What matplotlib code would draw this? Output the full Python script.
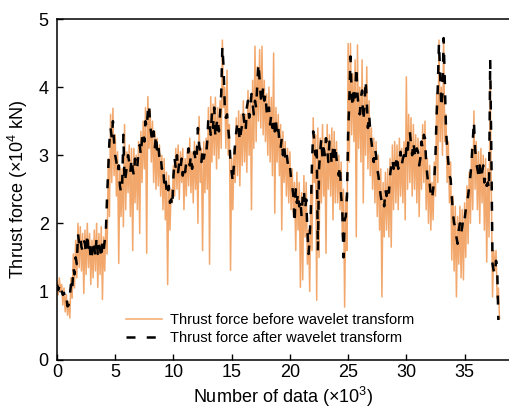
import numpy as np
import matplotlib
matplotlib.use("Agg")
import matplotlib.pyplot as plt

plt.rcParams['font.family'] = ['Liberation Sans', 'DejaVu Sans']
plt.rcParams['mathtext.fontset'] = 'custom'
plt.rcParams['mathtext.rm'] = 'Liberation Sans'

before = [
    1.15, 0.95, 1.20, 1.00, 1.10, 0.80, 1.05, 0.70, 0.95, 0.65,
    0.85, 0.61, 1.20, 0.90, 1.55, 1.05, 1.75, 1.20, 2.00, 1.35,
    1.95, 1.30, 1.85, 0.97, 1.90, 1.25, 2.00, 1.35, 1.85, 1.10,
    1.75, 1.20, 1.90, 1.30, 2.00, 1.06, 1.85, 1.25, 1.95, 0.88,
    1.80, 1.30, 2.05, 1.55, 2.95, 2.10, 3.60, 2.60, 3.69, 2.70,
    3.30, 2.40, 3.05, 1.41, 2.85, 2.10, 2.80, 1.95, 3.45, 2.20,
    3.05, 2.45, 3.15, 2.10, 3.10, 1.60, 3.10, 2.30, 3.00, 2.20,
    3.20, 1.85, 3.35, 2.60, 3.50, 2.80, 3.70, 1.56, 3.86, 3.10,
    3.65, 2.90, 3.50, 2.60, 3.35, 2.50, 3.25, 2.55, 3.15, 2.40,
    3.00, 2.20, 2.95, 2.05, 2.75, 1.10, 2.70, 1.90, 2.50, 2.30,
    2.85, 2.40, 3.10, 2.50, 3.15, 2.35, 3.05, 2.60, 3.10, 2.20,
    2.95, 2.40, 3.10, 2.55, 3.25, 2.45, 3.05, 2.30, 3.20, 2.50,
    3.15, 2.00, 3.57, 2.60, 3.10, 1.60, 3.20, 2.45, 3.25, 2.50,
    3.70, 1.40, 3.86, 2.90, 3.75, 3.00, 3.85, 2.80, 3.70, 2.95,
    3.80, 3.10, 4.69, 3.70, 4.00, 3.10, 4.25, 3.00, 3.45, 1.31,
    2.95, 2.20, 3.10, 2.60, 3.55, 2.70, 3.65, 2.55, 3.60, 2.85,
    3.80, 2.90, 3.60, 2.75, 3.95, 3.00, 3.85, 2.20, 4.10, 3.10,
    4.60, 3.20, 4.30, 3.50, 4.55, 3.40, 4.60, 3.30, 4.10, 3.20,
    3.90, 3.00, 4.00, 2.90, 3.85, 2.70, 4.50, 2.15, 3.70, 2.90,
    3.60, 2.70, 3.45, 1.90, 3.35, 2.60, 3.20, 2.40, 3.10, 2.30,
    3.05, 2.20, 2.80, 2.10, 2.60, 1.60, 2.75, 1.90, 2.60, 1.06,
    2.45, 1.17, 2.70, 1.80, 2.60, 1.40, 1.90, 1.00, 2.50, 1.60,
    3.55, 2.60, 3.30, 0.87, 3.40, 1.50, 3.25, 2.30, 3.45, 2.40,
    3.25, 1.56, 3.45, 2.50, 3.30, 2.40, 3.40, 2.05, 3.35, 2.30,
    3.20, 2.30, 3.00, 2.20, 2.90, 1.80, 2.50, 0.77, 2.40, 1.60,
    4.64, 2.90, 4.64, 3.30, 4.20, 3.20, 4.40, 1.80, 4.62, 3.10,
    4.00, 2.90, 4.40, 2.30, 4.00, 3.00, 4.30, 2.80, 3.80, 2.70,
    3.40, 2.50, 3.25, 2.30, 3.20, 2.10, 3.00, 1.90, 2.80, 0.92,
    2.60, 1.80, 2.75, 1.90, 2.80, 1.80, 2.95, 1.65, 3.15, 2.20,
    3.20, 2.30, 3.15, 2.20, 3.25, 2.40, 3.10, 2.30, 3.20, 2.05,
    4.15, 2.50, 3.60, 2.60, 3.55, 2.40, 3.45, 2.50, 3.30, 2.30,
    3.25, 2.10, 3.20, 2.50, 3.45, 2.60, 3.50, 2.20, 2.95, 2.00,
    2.85, 1.90, 2.60, 2.05, 2.90, 2.40, 3.90, 2.60, 4.69, 3.20,
    4.00, 3.00, 4.72, 3.20, 3.60, 2.60, 3.20, 2.30, 2.90, 1.46,
    2.40, 1.30, 2.25, 0.92, 2.10, 1.40, 2.25, 1.20, 2.20, 1.17,
    2.30, 1.50, 2.55, 1.70, 2.75, 2.00, 3.10, 2.20, 3.65, 2.50,
    3.20, 2.20, 3.05, 2.00, 3.10, 2.30, 3.00, 1.90, 2.95, 1.43,
    2.80, 1.80, 4.20, 2.40, 0.92, 1.60, 1.30, 1.60, 0.90, 1.05,
    0.60,
]

after = [
    1.10, 1.02, 1.08, 1.12, 1.00, 0.95, 0.98, 0.88, 0.92, 0.78,
    0.80, 0.95, 1.10, 1.00, 1.35, 1.25, 1.50, 1.40, 1.85, 1.70,
    1.80, 1.65, 1.60, 1.75, 1.70, 1.55, 1.85, 1.60, 1.70, 1.45,
    1.55, 1.75, 1.65, 1.50, 1.80, 1.55, 1.70, 1.62, 1.48, 1.72,
    1.60, 1.75, 1.90, 2.40, 2.80, 3.20, 3.40, 3.25, 3.50, 3.20,
    3.00, 2.90, 2.75, 2.85, 2.55, 2.45, 2.60, 3.30, 2.60, 2.70,
    2.85, 3.00, 2.90, 2.75, 2.95, 2.80, 2.70, 2.95, 2.80, 2.85,
    3.05, 3.15, 3.00, 3.25, 3.35, 3.20, 3.50, 3.40, 3.65, 3.75,
    3.45, 3.30, 3.20, 3.35, 3.10, 3.30, 3.05, 3.15, 2.95, 3.00,
    2.80, 2.85, 2.60, 2.70, 2.50, 2.40, 2.55, 2.30, 2.35, 2.25,
    2.70, 2.95, 2.80, 3.00, 2.75, 2.90, 2.80, 2.95, 2.70, 2.85,
    2.75, 2.90, 2.95, 3.10, 2.85, 3.00, 2.80, 2.95, 3.05, 2.90,
    3.00, 3.40, 3.15, 3.05, 2.90, 3.10, 2.95, 3.05, 3.00, 3.20,
    3.55, 3.45, 3.30, 3.60, 3.40, 3.70, 3.25, 3.45, 3.55, 3.35,
    3.60, 3.90, 4.60, 4.30, 3.75, 3.55, 3.60, 3.40, 3.20, 2.90,
    2.75, 2.60, 2.90, 3.20, 3.35, 3.50, 3.40, 3.20, 3.35, 3.45,
    3.60, 3.45, 3.35, 3.70, 3.80, 3.55, 3.65, 3.90, 3.75, 3.60,
    3.80, 3.70, 4.05, 4.35, 4.10, 3.85, 3.75, 4.00, 3.80, 3.90,
    3.65, 3.55, 3.70, 3.45, 3.60, 3.40, 3.55, 3.35, 3.50, 3.30,
    3.40, 3.20, 3.10, 3.25, 3.00, 3.15, 2.95, 3.05, 2.90, 2.80,
    2.85, 2.65, 2.55, 2.40, 2.00, 2.50, 2.30, 2.45, 2.25, 2.35,
    2.10, 2.40, 2.50, 2.20, 2.35, 1.90, 1.55, 1.80, 2.20, 2.90,
    3.35, 3.20, 3.00, 3.15, 1.60, 2.80, 3.05, 3.25, 2.95, 3.10,
    3.00, 3.25, 3.10, 2.90, 3.20, 3.05, 2.85, 3.10, 2.95, 3.15,
    2.95, 2.80, 2.70, 2.85, 2.40, 2.20, 1.50, 2.05, 2.10, 2.40,
    3.30, 3.80, 4.45, 3.90, 3.70, 4.00, 3.85, 4.30, 3.90, 3.70,
    3.60, 3.85, 3.95, 3.50, 3.70, 4.10, 3.80, 3.40, 3.60, 3.35,
    3.20, 3.05, 2.90, 3.10, 3.00, 2.80, 2.70, 2.55, 2.40, 2.30,
    2.35, 2.25, 2.50, 2.40, 2.55, 2.45, 2.70, 2.85, 2.95, 2.80,
    2.95, 2.85, 3.00, 2.80, 2.90, 3.05, 2.85, 2.95, 3.00, 2.90,
    3.10, 3.00, 3.30, 3.35, 3.15, 3.00, 3.20, 3.05, 2.95, 3.10,
    3.05, 2.85, 2.95, 3.20, 3.10, 3.30, 3.25, 2.90, 2.70, 2.55,
    2.60, 2.40, 2.35, 2.50, 2.65, 3.00, 3.60, 4.00, 4.65, 4.20,
    3.70, 3.90, 4.72, 4.10, 3.40, 3.10, 2.90, 2.70, 2.65, 2.40,
    2.15, 2.00, 1.95, 1.80, 1.70, 1.90, 2.00, 1.85, 1.95, 2.10,
    2.05, 2.20, 2.30, 2.40, 2.55, 2.70, 2.90, 3.20, 3.50, 3.10,
    2.90, 2.80, 2.70, 2.85, 2.65, 2.75, 2.85, 2.60, 2.70, 2.55,
    2.60, 2.50, 4.40, 3.00, 1.40, 1.30, 1.25, 1.45, 1.35, 0.58,
]

x_before = np.arange(len(before)) * 0.1
x_after = np.arange(len(after)) * 0.1

fig = plt.figure(figsize=(5.1, 4.15), dpi=100)
ax = fig.add_axes([0.1118, 0.1337, 0.8882, 0.8205])

ax.plot(x_before, before, color='#F2A86C', lw=1.1,
        label='Thrust force before wavelet transform')
ax.plot(x_after, after, color='black', lw=1.8, dashes=(3.6, 4.5),
        label='Thrust force after wavelet transform')

ax.set_xlim(0, 38.9)
ax.set_ylim(0, 5)
ax.set_xticks([0, 5, 10, 15, 20, 25, 30, 35])
ax.set_yticks([0, 1, 2, 3, 4, 5])
ax.tick_params(direction='in', length=4.5, width=1, labelsize=13,
               top=False, right=False)
ax.tick_params(axis='y', pad=6)
ax.tick_params(axis='x', pad=3)
for s in ['left', 'bottom', 'top']:
    ax.spines[s].set_linewidth(1.1)
ax.spines['right'].set_visible(False)

ax.set_xlabel('Number of data (×10$^3$)', fontsize=13, labelpad=3)
ax.set_ylabel('Thrust force (×10$^4$ kN)', fontsize=13, labelpad=6)

ax.legend(loc='lower left', bbox_to_anchor=(0.152, 0.042), frameon=False,
          fontsize=10.5, handlelength=2.5, handletextpad=0.5,
          labelspacing=0.3, borderpad=0, borderaxespad=0)

fig.savefig('out.png', dpi=100)
